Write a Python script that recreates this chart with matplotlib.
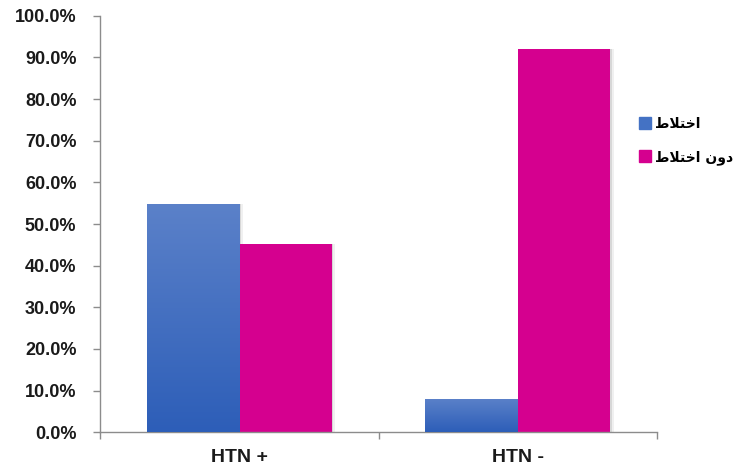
import matplotlib
matplotlib.use("Agg")
import matplotlib.pyplot as plt
import numpy as np
from matplotlib.colors import LinearSegmentedColormap
from matplotlib.lines import Line2D

# ---- data -------------------------------------------------------------
categories = ["HTN +", "HTN -"]
series_names = ["اختلاط", "دون اختلاط"]
with_complication = [54.7, 8.1]      # percent
without_complication = [45.3, 91.9]  # percent
y_ticks = [0, 10, 20, 30, 40, 50, 60, 70, 80, 90, 100]

# ---- minimal Arabic shaping (matplotlib has no complex text layout) ---
# forms: isolated, final, initial, medial
FORMS = {
    "ا": ("\uFE8D", "\uFE8E", None, None),
    "خ": ("\uFEA5", "\uFEA6", "\uFEA7", "\uFEA8"),
    "ت": ("\uFE95", "\uFE96", "\uFE97", "\uFE98"),
    "ل": ("\uFEDD", "\uFEDE", "\uFEDF", "\uFEE0"),
    "ط": ("\uFEC1", "\uFEC2", "\uFEC3", "\uFEC4"),
    "د": ("\uFEA9", "\uFEAA", None, None),
    "و": ("\uFEED", "\uFEEE", None, None),
    "ن": ("\uFEE5", "\uFEE6", "\uFEE7", "\uFEE8"),
    "LA": ("\uFEFB", "\uFEFC", None, None),
}


def shape_arabic(text):
    chars = []
    i = 0
    while i < len(text):
        if text[i] == "ل" and i + 1 < len(text) and text[i + 1] == "ا":
            chars.append("LA")
            i += 2
        else:
            chars.append(text[i])
            i += 1

    def dual(c):
        return c in FORMS and FORMS[c][2] is not None

    out = []
    for k, c in enumerate(chars):
        if c not in FORMS:
            out.append(c)
            continue
        prev = chars[k - 1] if k > 0 else None
        nxt = chars[k + 1] if k + 1 < len(chars) else None
        jp = prev is not None and dual(prev)
        jn = nxt is not None and nxt in FORMS and dual(c)
        iso, fin, ini, med = FORMS[c]
        if jp and jn:
            out.append(med)
        elif jp:
            out.append(fin)
        elif jn:
            out.append(ini)
        else:
            out.append(iso)
    return "".join(out)[::-1]


# ---- figure -----------------------------------------------------------
fig = plt.figure(figsize=(7.41, 4.70), dpi=100)
ax = fig.add_axes([0.1350, 0.0802, 0.7517, 0.8864])

x = np.arange(len(categories))
width = 0.332
blue = "#4472C4"
magenta = "#D5008F"

bars_a = ax.bar(x - width / 2, with_complication, width, color=blue,
                zorder=2, linewidth=0)
bars_b = ax.bar(x + width / 2, without_complication, width, color=magenta,
                zorder=2, linewidth=0)

# soft shadow around every bar
for b in list(bars_a) + list(bars_b):
    for off, alpha in [(0.006, 0.10), (0.012, 0.06)]:
        ax.bar(b.get_x() + b.get_width() / 2 + off, b.get_height(),
               b.get_width(), color="black", alpha=alpha, zorder=1,
               linewidth=0)

# vertical gradient on the blue bars (lighter at top, darker at base)
grad_cmap = LinearSegmentedColormap.from_list("bluegrad", ["#2D5EB8", "#5B81C9"])
grad = np.linspace(0, 1, 256).reshape(-1, 1)
for b in bars_a:
    x0, w, h = b.get_x(), b.get_width(), b.get_height()
    im = ax.imshow(grad, cmap=grad_cmap, origin="lower", aspect="auto",
                   extent=(x0, x0 + w, 0, h), zorder=3)
    im.set_clip_path(b)

ax.set_xlim(-0.5, len(categories) - 0.5)
ax.set_ylim(0, 100)

for side in ("top", "right"):
    ax.spines[side].set_visible(False)
for side in ("left", "bottom"):
    ax.spines[side].set_color("#8C8C8C")
    ax.spines[side].set_linewidth(1.0)

ax.set_yticks(y_ticks)
ax.set_yticklabels([f"{v:.1f}%" for v in y_ticks])
ax.tick_params(axis="y", direction="out", length=5, width=1,
               color="#8C8C8C", pad=12)
for lbl in ax.get_yticklabels():
    lbl.set_fontfamily(["Liberation Sans", "DejaVu Sans"])
    lbl.set_fontweight("bold")
    lbl.set_fontsize(13)
    lbl.set_color("#1A1A1A")

ax.set_xticks(x)
ax.set_xticklabels(categories)
ax.set_xticks(np.arange(-0.5, len(categories)), minor=True)
ax.tick_params(axis="x", which="major", length=0, pad=12)
ax.tick_params(axis="x", which="minor", direction="out", length=5, width=1,
               color="#8C8C8C")
for lbl in ax.get_xticklabels():
    lbl.set_fontfamily(["Liberation Sans", "DejaVu Sans"])
    lbl.set_fontweight("bold")
    lbl.set_fontsize(14)
    lbl.set_color("#1A1A1A")

# legend: colour square followed by the series name
handles = [Line2D([], [], marker="s", linestyle="", markersize=9,
                  markerfacecolor=c, markeredgecolor=c)
           for c in (blue, magenta)]
leg = fig.legend(handles, [shape_arabic(s) for s in series_names],
                 loc="upper left", bbox_to_anchor=(0.846, 0.777),
                 frameon=False, handlelength=0.8, handletextpad=0.3,
                 labelspacing=1.35,
                 prop={"family": ["DejaVu Sans"], "weight": "bold", "size": 10})

fig.savefig("out.png", dpi=100, facecolor="white")
